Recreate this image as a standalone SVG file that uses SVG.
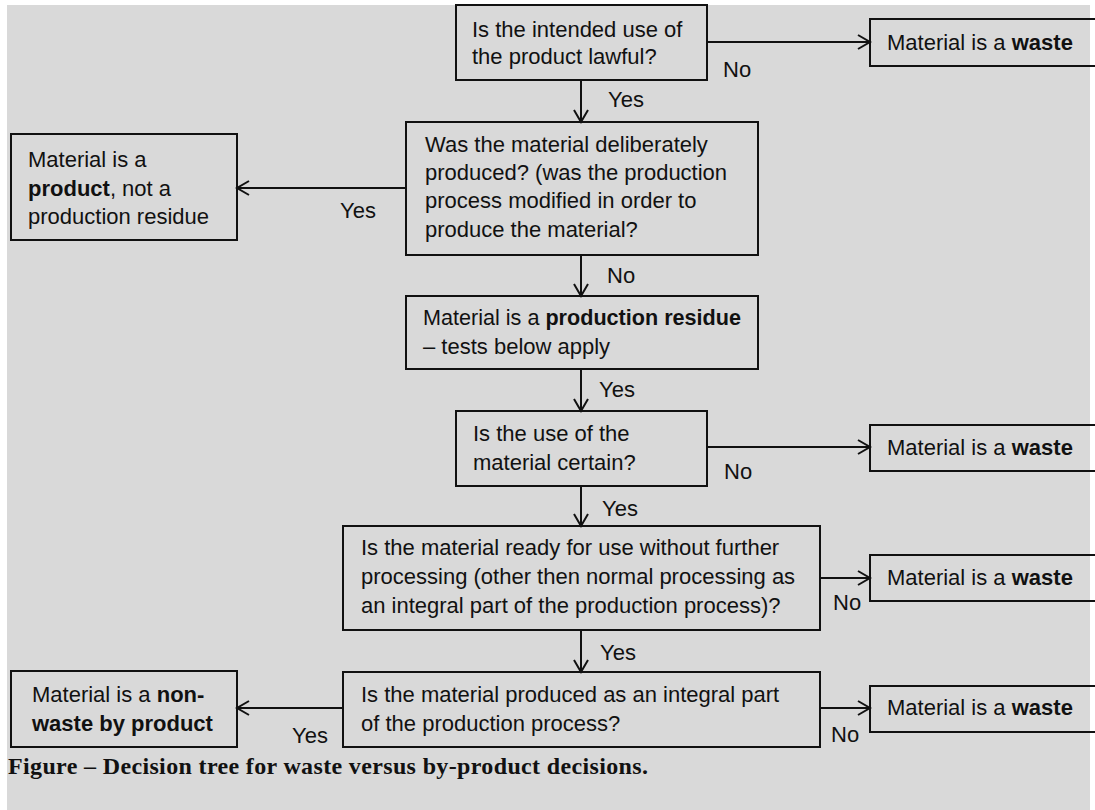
<svg xmlns="http://www.w3.org/2000/svg" width="1095" height="810" viewBox="0 0 1095 810">
<defs>
<marker id="ah" markerUnits="userSpaceOnUse" markerWidth="20" markerHeight="20" refX="14" refY="8" orient="auto">
<path d="M2,1 L14,8 L2,15" fill="none" stroke="#111" stroke-width="2"/>
</marker>
<style>
.box{fill:none;stroke:#111;stroke-width:2}
.t{font-family:"Liberation Sans",Arial,sans-serif;font-size:22px;fill:#111}
.b{font-weight:bold}
.c{stroke:#111;stroke-width:2;fill:none;marker-end:url(#ah)}
.cap{font-family:"Liberation Serif","Times New Roman",serif;font-size:24px;font-weight:bold;fill:#111}
</style>
</defs>
<rect x="0" y="0" width="1095" height="810" fill="#ffffff"/>
<rect x="7" y="5" width="1083" height="805" fill="#d9d9d9"/>

<g id="connectors">
<line class="c" x1="707" y1="42" x2="870" y2="42"/>
<line class="c" x1="581" y1="80" x2="581" y2="122"/>
<line class="c" x1="406" y1="188" x2="237" y2="188"/>
<line class="c" x1="581" y1="255" x2="581" y2="296"/>
<line class="c" x1="581" y1="369" x2="581" y2="411"/>
<line class="c" x1="707" y1="447" x2="870" y2="447"/>
<line class="c" x1="581" y1="486" x2="581" y2="526"/>
<line class="c" x1="820" y1="578" x2="870" y2="578"/>
<line class="c" x1="581" y1="630" x2="581" y2="672"/>
<line class="c" x1="820" y1="708" x2="870" y2="708"/>
<line class="c" x1="343" y1="708" x2="237" y2="708"/>
<text class="t" x="723" y="77">No</text>
<text class="t" x="608" y="107">Yes</text>
<text class="t" x="340" y="218">Yes</text>
<text class="t" x="607" y="283">No</text>
<text class="t" x="599" y="397">Yes</text>
<text class="t" x="724" y="479">No</text>
<text class="t" x="602" y="516">Yes</text>
<text class="t" x="833" y="610">No</text>
<text class="t" x="600" y="660">Yes</text>
<text class="t" x="831" y="742">No</text>
<text class="t" x="292" y="743">Yes</text>
</g>

<g id="q1">
<rect class="box" x="456" y="5" width="251" height="75"/>
<text class="t" x="472" y="37">Is the intended use of</text>
<text class="t" x="472" y="64">the product lawful?</text>
</g>
<g id="waste1">
<rect class="box" x="870" y="19" width="240" height="47"/>
<text class="t" x="887" y="50">Material is a <tspan class="b">waste</tspan></text>
</g>
<g id="q2">
<rect class="box" x="406" y="122" width="352" height="133"/>
<text class="t" x="425" y="152">Was the material deliberately</text>
<text class="t" x="425" y="180">produced? (was the production</text>
<text class="t" x="425" y="208">process modified in order to</text>
<text class="t" x="425" y="237">produce the material?</text>
</g>
<g id="product">
<rect class="box" x="11" y="134" width="226" height="106"/>
<text class="t" x="28" y="167">Material is a</text>
<text class="t" x="28" y="196"><tspan class="b">product</tspan>, not a</text>
<text class="t" x="28" y="224">production residue</text>
</g>
<g id="residue">
<rect class="box" x="406" y="296" width="352" height="73"/>
<text class="t" x="423" y="325" textLength="318" lengthAdjust="spacingAndGlyphs">Material is a <tspan class="b">production residue</tspan></text>
<text class="t" x="423" y="354">– tests below apply</text>
</g>
<g id="q3">
<rect class="box" x="456" y="411" width="251" height="75"/>
<text class="t" x="473" y="441">Is the use of the</text>
<text class="t" x="473" y="470">material certain?</text>
</g>
<g id="waste2">
<rect class="box" x="870" y="425" width="240" height="46"/>
<text class="t" x="887" y="455">Material is a <tspan class="b">waste</tspan></text>
</g>
<g id="q4">
<rect class="box" x="343" y="526" width="477" height="104"/>
<text class="t" x="361" y="555">Is the material ready for use without further</text>
<text class="t" x="361" y="584">processing (other then normal processing as</text>
<text class="t" x="361" y="613">an integral part of the production process)?</text>
</g>
<g id="waste3">
<rect class="box" x="870" y="555" width="240" height="46"/>
<text class="t" x="887" y="585">Material is a <tspan class="b">waste</tspan></text>
</g>
<g id="q5">
<rect class="box" x="343" y="672" width="477" height="75"/>
<text class="t" x="361" y="702">Is the material produced as an integral part</text>
<text class="t" x="361" y="731">of the production process?</text>
</g>
<g id="waste4">
<rect class="box" x="870" y="686" width="240" height="46"/>
<text class="t" x="887" y="715">Material is a <tspan class="b">waste</tspan></text>
</g>
<g id="nonwaste">
<rect class="box" x="11" y="671" width="226" height="76"/>
<text class="t" x="32" y="702">Material is a <tspan class="b">non-</tspan></text>
<text class="t" x="32" y="731"><tspan class="b">waste by product</tspan></text>
</g>
<text class="cap" x="8" y="774" textLength="640" lengthAdjust="spacing">Figure – Decision tree for waste versus by-product decisions.</text>
</svg>
